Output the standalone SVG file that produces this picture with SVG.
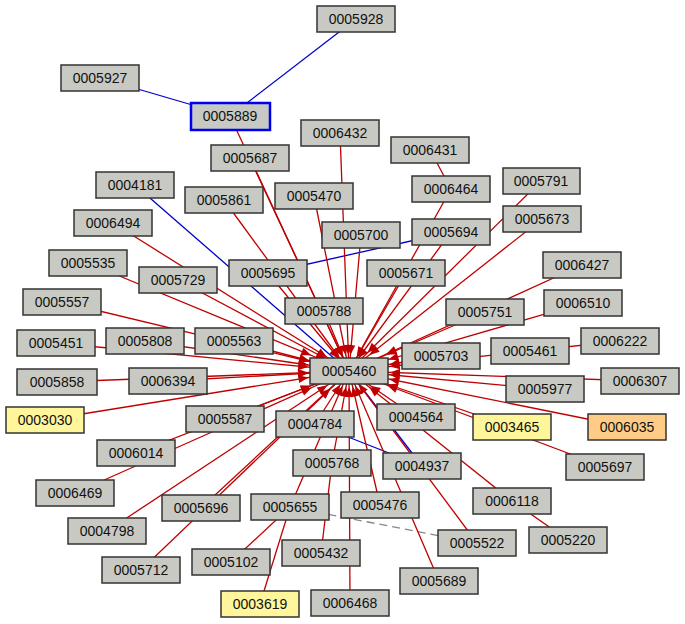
<svg xmlns="http://www.w3.org/2000/svg" width="685" height="624" viewBox="0 0 685 624">
<style>
.n rect{fill:#c8c9c2;stroke:#333;stroke-width:1.5}
.n text{font-family:"Liberation Sans",Arial,sans-serif;font-size:14px;fill:#111;text-anchor:middle;dominant-baseline:central}
.y rect{fill:#fff59a}
.o rect{fill:#ffcc88}
.r{stroke:#c00000;stroke-width:1.3;fill:none}
.bl{stroke:#0000cc;stroke-width:1.3;fill:none}
.a{marker-end:url(#ma)} .m{marker-end:url(#mm)} .b{marker-end:url(#mb)}
</style>
<defs>
<marker id="ma" markerUnits="userSpaceOnUse" markerWidth="12" markerHeight="10" refX="26" refY="4" orient="auto" overflow="visible"><path d="M0,0L10,4L0,8z" fill="#c00000"/></marker>
<marker id="mm" markerUnits="userSpaceOnUse" markerWidth="12" markerHeight="10" refX="36" refY="4" orient="auto" overflow="visible"><path d="M0,0L10,4L0,8z" fill="#c00000"/></marker>
<marker id="mb" markerUnits="userSpaceOnUse" markerWidth="12" markerHeight="10" refX="51" refY="4" orient="auto" overflow="visible"><path d="M0,0L10,4L0,8z" fill="#c00000"/></marker>
</defs>
<rect width="685" height="624" fill="#fff"/>
<g id="edges">
<line class="bl" x1="356" y1="19" x2="230" y2="116"/>
<line class="bl" x1="100" y1="78" x2="230" y2="116"/>
<line class="bl" x1="268" y1="273" x2="451" y2="232"/>
<line class="bl" x1="315" y1="424" x2="422" y2="466"/>
<line class="bl" x1="349" y1="371" x2="422" y2="466"/>
<line class="bl" x1="135" y1="185" x2="336" y2="360"/>
<line x1="290" y1="507" x2="477" y2="543" stroke="#888" stroke-width="1.3" stroke-dasharray="8,5"/>
<line class="r" x1="430" y1="150" x2="451" y2="189"/>
<line class="r" x1="568" y1="540" x2="512" y2="501"/>
<line class="r" x1="321" y1="553" x2="332" y2="463"/>
<line class="r" x1="231" y1="562" x2="290" y2="507"/>
<line class="r" x1="260" y1="604" x2="290" y2="507"/>
<g class="r">
<line class="a" x1="230" y1="116" x2="349" y2="371"/>
<line class="a" x1="340" y1="133" x2="349" y2="371"/>
<line class="a" x1="250" y1="158" x2="349" y2="371"/>
<line class="a" x1="224" y1="200" x2="349" y2="371"/>
<line class="a" x1="314" y1="196" x2="349" y2="371"/>
<line class="a" x1="451" y1="189" x2="349" y2="371"/>
<line class="m" x1="541" y1="181" x2="349" y2="371"/>
<line class="a" x1="361" y1="235" x2="349" y2="371"/>
<line class="a" x1="451" y1="232" x2="349" y2="371"/>
<line class="m" x1="542" y1="219" x2="349" y2="371"/>
<line class="m" x1="113" y1="223" x2="349" y2="371"/>
<line class="b" x1="88" y1="263" x2="349" y2="371"/>
<line class="m" x1="178" y1="280" x2="349" y2="371"/>
<line class="a" x1="268" y1="273" x2="349" y2="371"/>
<line class="a" x1="406" y1="273" x2="349" y2="371"/>
<line class="b" x1="582" y1="265" x2="349" y2="371"/>
<line class="b" x1="62" y1="302" x2="349" y2="371"/>
<line class="a" x1="324" y1="311" x2="349" y2="371"/>
<line class="b" x1="485" y1="312" x2="349" y2="371"/>
<line class="b" x1="583" y1="303" x2="349" y2="371"/>
<line class="b" x1="56" y1="343" x2="349" y2="371"/>
<line class="b" x1="145" y1="341" x2="349" y2="371"/>
<line class="b" x1="234" y1="341" x2="349" y2="371"/>
<line class="b" x1="620" y1="341" x2="349" y2="371"/>
<line class="b" x1="441" y1="356" x2="349" y2="371"/>
<line class="b" x1="57" y1="382" x2="349" y2="371"/>
<line class="b" x1="168" y1="381" x2="349" y2="371"/>
<line class="b" x1="545" y1="389" x2="349" y2="371"/>
<line class="b" x1="640" y1="381" x2="349" y2="371"/>
<line class="b" x1="45" y1="420" x2="349" y2="371"/>
<line class="b" x1="225" y1="419" x2="349" y2="371"/>
<line class="a" x1="315" y1="424" x2="349" y2="371"/>
<line class="m" x1="416" y1="417" x2="349" y2="371"/>
<line class="b" x1="512" y1="427" x2="349" y2="371"/>
<line class="b" x1="627" y1="427" x2="349" y2="371"/>
<line class="b" x1="136" y1="453" x2="349" y2="371"/>
<line class="a" x1="332" y1="463" x2="349" y2="371"/>
<line class="b" x1="605" y1="467" x2="349" y2="371"/>
<line class="b" x1="75" y1="493" x2="349" y2="371"/>
<line class="m" x1="201" y1="508" x2="349" y2="371"/>
<line class="a" x1="290" y1="507" x2="349" y2="371"/>
<line class="a" x1="380" y1="505" x2="349" y2="371"/>
<line class="m" x1="512" y1="501" x2="349" y2="371"/>
<line class="m" x1="107" y1="531" x2="349" y2="371"/>
<line class="a" x1="477" y1="543" x2="349" y2="371"/>
<line class="m" x1="141" y1="570" x2="349" y2="371"/>
<line class="a" x1="439" y1="581" x2="349" y2="371"/>
<line class="a" x1="350" y1="603" x2="349" y2="371"/>
</g>
</g>
<g id="n0005928" class="n"><rect x="317" y="6" width="78" height="26"/><text x="356" y="19">0005928</text></g>
<g id="n0005927" class="n"><rect x="61" y="65" width="78" height="26"/><text x="100" y="78">0005927</text></g>
<g id="n0005889" class="n"><rect x="191" y="103" width="79" height="27" style="stroke:#0000ee;stroke-width:2.5"/><text x="230" y="116">0005889</text></g>
<g id="n0006432" class="n"><rect x="301" y="120" width="78" height="26"/><text x="340" y="133">0006432</text></g>
<g id="n0005687" class="n"><rect x="211" y="145" width="78" height="26"/><text x="250" y="158">0005687</text></g>
<g id="n0006431" class="n"><rect x="391" y="137" width="78" height="26"/><text x="430" y="150">0006431</text></g>
<g id="n0004181" class="n"><rect x="96" y="172" width="78" height="26"/><text x="135" y="185">0004181</text></g>
<g id="n0005861" class="n"><rect x="185" y="187" width="78" height="26"/><text x="224" y="200">0005861</text></g>
<g id="n0005470" class="n"><rect x="275" y="183" width="78" height="26"/><text x="314" y="196">0005470</text></g>
<g id="n0006464" class="n"><rect x="412" y="176" width="78" height="26"/><text x="451" y="189">0006464</text></g>
<g id="n0005791" class="n"><rect x="503" y="168" width="77" height="26"/><text x="541" y="181">0005791</text></g>
<g id="n0006494" class="n"><rect x="74" y="210" width="78" height="26"/><text x="113" y="223">0006494</text></g>
<g id="n0005700" class="n"><rect x="322" y="222" width="78" height="26"/><text x="361" y="235">0005700</text></g>
<g id="n0005694" class="n"><rect x="412" y="219" width="78" height="26"/><text x="451" y="232">0005694</text></g>
<g id="n0005673" class="n"><rect x="503" y="206" width="78" height="26"/><text x="542" y="219">0005673</text></g>
<g id="n0005535" class="n"><rect x="49" y="250" width="78" height="26"/><text x="88" y="263">0005535</text></g>
<g id="n0005729" class="n"><rect x="139" y="267" width="78" height="26"/><text x="178" y="280">0005729</text></g>
<g id="n0005695" class="n"><rect x="229" y="260" width="78" height="26"/><text x="268" y="273">0005695</text></g>
<g id="n0005671" class="n"><rect x="367" y="260" width="78" height="26"/><text x="406" y="273">0005671</text></g>
<g id="n0006427" class="n"><rect x="543" y="252" width="78" height="26"/><text x="582" y="265">0006427</text></g>
<g id="n0005557" class="n"><rect x="23" y="289" width="78" height="26"/><text x="62" y="302">0005557</text></g>
<g id="n0005788" class="n"><rect x="285" y="298" width="78" height="26"/><text x="324" y="311">0005788</text></g>
<g id="n0005751" class="n"><rect x="446" y="299" width="78" height="26"/><text x="485" y="312">0005751</text></g>
<g id="n0006510" class="n"><rect x="544" y="290" width="78" height="26"/><text x="583" y="303">0006510</text></g>
<g id="n0005451" class="n"><rect x="17" y="330" width="78" height="26"/><text x="56" y="343">0005451</text></g>
<g id="n0005808" class="n"><rect x="106" y="328" width="78" height="26"/><text x="145" y="341">0005808</text></g>
<g id="n0005563" class="n"><rect x="195" y="328" width="78" height="26"/><text x="234" y="341">0005563</text></g>
<g id="n0006222" class="n"><rect x="581" y="328" width="78" height="26"/><text x="620" y="341">0006222</text></g>
<g id="n0005703" class="n"><rect x="402" y="343" width="78" height="26"/><text x="441" y="356">0005703</text></g>
<g id="n0005461" class="n"><rect x="491" y="338" width="78" height="26"/><text x="530" y="351">0005461</text></g>
<g id="n0005858" class="n"><rect x="17" y="369" width="80" height="26"/><text x="57" y="382">0005858</text></g>
<g id="n0006394" class="n"><rect x="129" y="368" width="78" height="26"/><text x="168" y="381">0006394</text></g>
<g id="n0005977" class="n"><rect x="506" y="376" width="78" height="26"/><text x="545" y="389">0005977</text></g>
<g id="n0006307" class="n"><rect x="601" y="368" width="78" height="26"/><text x="640" y="381">0006307</text></g>
<g id="n0003030" class="n y"><rect x="6" y="407" width="78" height="26"/><text x="45" y="420">0003030</text></g>
<g id="n0005587" class="n"><rect x="186" y="406" width="78" height="26"/><text x="225" y="419">0005587</text></g>
<g id="n0004784" class="n"><rect x="276" y="411" width="78" height="26"/><text x="315" y="424">0004784</text></g>
<g id="n0004564" class="n"><rect x="377" y="404" width="78" height="26"/><text x="416" y="417">0004564</text></g>
<g id="n0003465" class="n y"><rect x="473" y="414" width="78" height="26"/><text x="512" y="427">0003465</text></g>
<g id="n0006035" class="n o"><rect x="588" y="414" width="78" height="26"/><text x="627" y="427">0006035</text></g>
<g id="n0006014" class="n"><rect x="97" y="440" width="78" height="26"/><text x="136" y="453">0006014</text></g>
<g id="n0005768" class="n"><rect x="293" y="450" width="78" height="26"/><text x="332" y="463">0005768</text></g>
<g id="n0004937" class="n"><rect x="383" y="453" width="78" height="26"/><text x="422" y="466">0004937</text></g>
<g id="n0005697" class="n"><rect x="566" y="454" width="78" height="26"/><text x="605" y="467">0005697</text></g>
<g id="n0006469" class="n"><rect x="36" y="480" width="78" height="26"/><text x="75" y="493">0006469</text></g>
<g id="n0005696" class="n"><rect x="162" y="495" width="78" height="26"/><text x="201" y="508">0005696</text></g>
<g id="n0005655" class="n"><rect x="251" y="494" width="78" height="26"/><text x="290" y="507">0005655</text></g>
<g id="n0005476" class="n"><rect x="341" y="492" width="78" height="26"/><text x="380" y="505">0005476</text></g>
<g id="n0006118" class="n"><rect x="473" y="488" width="78" height="26"/><text x="512" y="501">0006118</text></g>
<g id="n0004798" class="n"><rect x="68" y="518" width="78" height="26"/><text x="107" y="531">0004798</text></g>
<g id="n0005522" class="n"><rect x="438" y="530" width="78" height="26"/><text x="477" y="543">0005522</text></g>
<g id="n0005220" class="n"><rect x="529" y="527" width="78" height="26"/><text x="568" y="540">0005220</text></g>
<g id="n0005432" class="n"><rect x="282" y="540" width="78" height="26"/><text x="321" y="553">0005432</text></g>
<g id="n0005102" class="n"><rect x="192" y="549" width="78" height="26"/><text x="231" y="562">0005102</text></g>
<g id="n0005712" class="n"><rect x="102" y="557" width="78" height="26"/><text x="141" y="570">0005712</text></g>
<g id="n0005689" class="n"><rect x="400" y="568" width="78" height="26"/><text x="439" y="581">0005689</text></g>
<g id="n0003619" class="n y"><rect x="221" y="591" width="78" height="26"/><text x="260" y="604">0003619</text></g>
<g id="n0006468" class="n"><rect x="311" y="590" width="78" height="26"/><text x="350" y="603">0006468</text></g>
<g id="n0005460" class="n"><rect x="310" y="358" width="78" height="26"/><text x="349" y="371">0005460</text></g>
</svg>
